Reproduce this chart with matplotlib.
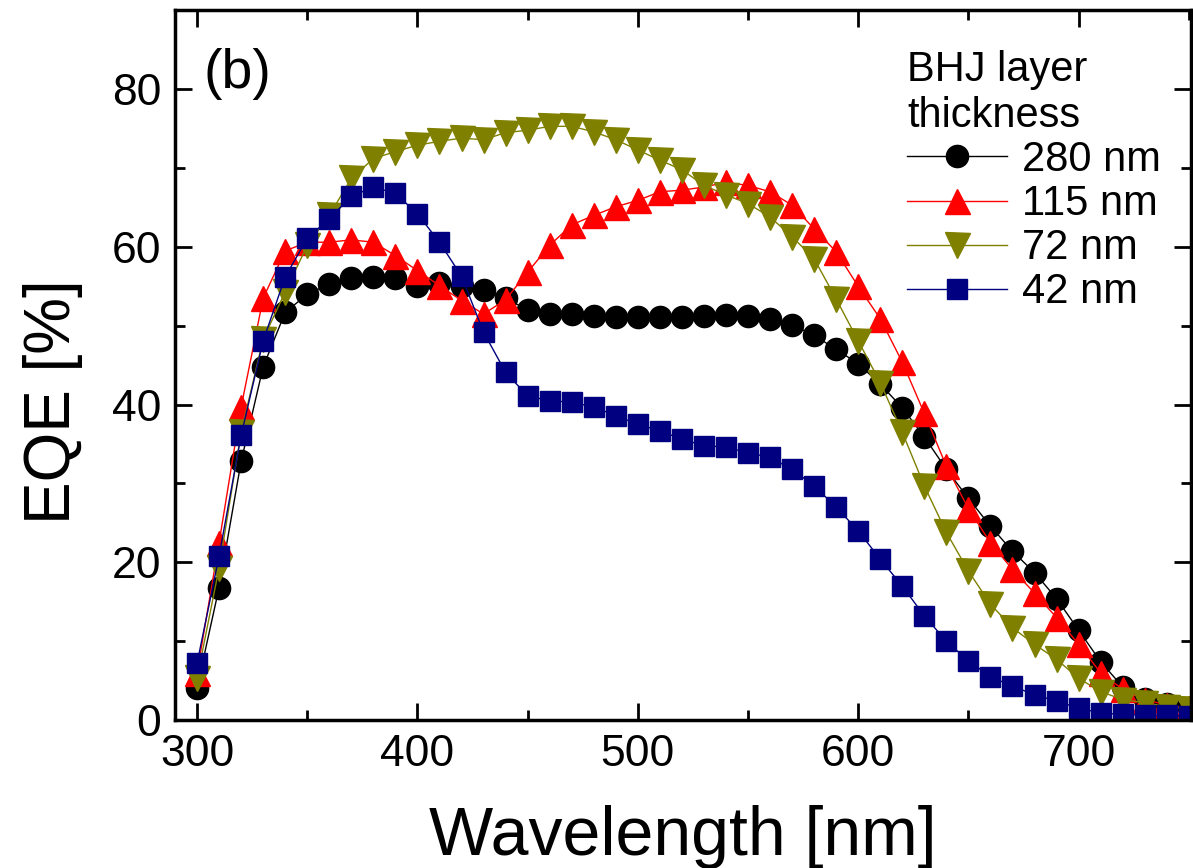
import numpy as np
import matplotlib.pyplot as plt
from matplotlib.ticker import MultipleLocator

plt.rcParams['font.family'] = ['Liberation Sans', 'DejaVu Sans']

wavelength = np.arange(300, 751, 10)

eqe_280 = [4.1, 16.8, 32.8, 44.8, 51.7, 54.0, 55.3, 56.1, 56.2, 56.0,
           55.1, 55.4, 55.0, 54.5, 53.5, 52.0, 51.5, 51.5, 51.3, 51.1,
           51.1, 51.1, 51.1, 51.3, 51.4, 51.3, 50.9, 50.1, 48.8, 47.0,
           45.2, 42.6, 39.6, 35.9, 31.8, 28.1, 24.6, 21.4, 18.7, 15.4,
           11.4, 7.4, 4.2, 2.7, 2.0, 1.5]
eqe_115 = [6.0, 22.5, 39.7, 53.5, 59.5, 60.6, 60.6, 60.9, 60.6, 58.9,
           57.0, 55.1, 53.2, 51.5, 53.3, 56.8, 60.2, 62.8, 64.0, 65.1,
           65.9, 67.0, 67.2, 67.6, 68.2, 67.8, 67.0, 65.3, 62.3, 59.4,
           55.0, 50.9, 45.4, 38.9, 32.2, 26.8, 22.5, 19.1, 16.1, 13.0,
           9.6, 6.0, 3.9, 2.6, 1.9, 1.5]
eqe_72 = [5.3, 19.3, 36.5, 48.3, 54.3, 60.2, 64.0, 68.7, 71.2, 72.1,
          72.9, 73.4, 73.8, 73.6, 74.5, 74.8, 75.3, 75.3, 74.6, 73.6,
          72.3, 71.0, 69.8, 67.8, 66.6, 65.5, 63.8, 61.3, 58.5, 53.4,
          48.1, 42.8, 36.5, 29.7, 23.8, 18.9, 14.7, 11.7, 9.6, 7.7,
          5.3, 3.6, 2.6, 2.2, 1.7, 1.4]
eqe_42 = [7.2, 20.8, 36.1, 48.1, 56.2, 61.1, 63.6, 66.4, 67.6, 66.8,
          64.2, 60.6, 56.3, 49.2, 44.1, 41.1, 40.5, 40.3, 39.7, 38.6,
          37.5, 36.7, 35.6, 34.8, 34.6, 33.9, 33.3, 31.8, 29.7, 27.0,
          24.0, 20.4, 17.0, 13.2, 10.0, 7.5, 5.5, 4.3, 3.2, 2.4,
          1.5, 0.9, 0.7, 0.6, 0.6, 0.5]

fig = plt.figure(figsize=(11.93, 8.68), dpi=100)
ax = fig.add_axes([0.1467, 0.1705, 0.8516, 0.8175])

ax.plot(wavelength, eqe_280, '-o', color='black', lw=1.0, ms=16, label='280 nm')
ax.plot(wavelength, eqe_115, '-^', color='#ff0000', lw=1.0, ms=18, label='115 nm')
ax.plot(wavelength, eqe_72, '-v', color='#808000', lw=1.0, ms=18, label='72 nm')
ax.plot(wavelength, eqe_42, '-s', color='#000080', lw=1.0, ms=14, label='42 nm')

ax.set_xlim(290, 751)
ax.set_ylim(0, 90)
ax.xaxis.set_major_locator(MultipleLocator(100))
ax.xaxis.set_minor_locator(MultipleLocator(50))
ax.yaxis.set_major_locator(MultipleLocator(20))
ax.yaxis.set_minor_locator(MultipleLocator(10))
ax.tick_params(which='both', direction='in', top=True, right=True, width=2)
ax.tick_params(which='major', length=12, labelsize=32, pad=10)
ax.tick_params(which='minor', length=7)
for spine in ax.spines.values():
    spine.set_linewidth(2.5)

ax.set_xlabel('Wavelength [nm]', fontsize=49)
ax.set_ylabel('EQE [%]', fontsize=46)
ax.xaxis.label.set_va('center')
ax.yaxis.label.set_va('center')
ax.xaxis.set_label_coords(0.5, -0.165)
ax.yaxis.set_label_coords(-0.12, 0.449)
ax.text(0.028, 0.91, '(b)', transform=ax.transAxes, fontsize=40, va='center')

leg = ax.legend(title='BHJ layer\nthickness', loc='upper right',
                bbox_to_anchor=(0.995, 0.98), frameon=False, fontsize=30,
                title_fontsize=30, numpoints=1, handlelength=2.4,
                handletextpad=0.35, labelspacing=0.1, alignment='left',
                borderaxespad=0.2)

fig.savefig('out.png', dpi=100)
